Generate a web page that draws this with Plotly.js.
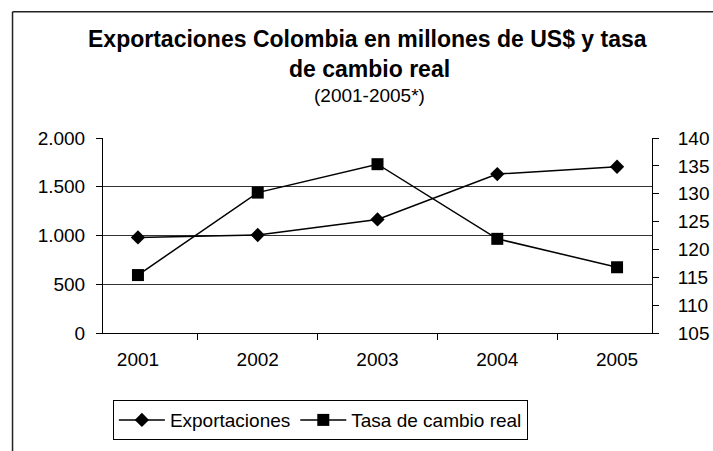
<!DOCTYPE html>
<html>
<head>
<meta charset="utf-8">
<script src="https://cdn.plot.ly/plotly-3.0.1.min.js"></script>
<style>html,body{margin:0;padding:0;background:#fff;}#chart{width:713px;height:451px;}</style>
</head>
<body>
<div id="chart"></div>
<script>
const years = ['2001', '2002', '2003', '2004', '2005'];
const exportaciones = [980, 1005, 1165, 1630, 1705];
const tasaCambio = [115.4, 130.2, 135.3, 121.9, 116.8];
const leftTickVals = [0, 500, 1000, 1500, 2000];
const leftTickText = ['0', '500', '1.000', '1.500', '2.000'];
const titleLine1 = 'Exportaciones Colombia en millones de US$ y tasa';
const titleLine2 = 'de cambio real';
const subtitle = '(2001-2005*)';

const FONT = 'Liberation Sans, Arial, sans-serif';

const traces = [
  {
    x: years, y: exportaciones, name: 'Exportaciones', type: 'scatter', mode: 'lines+markers',
    line: {color: '#000', width: 1.5},
    marker: {symbol: 'diamond', size: 11, color: '#000'},
    yaxis: 'y'
  },
  {
    x: years, y: tasaCambio, name: 'Tasa de cambio real', type: 'scatter', mode: 'lines+markers',
    line: {color: '#000', width: 1.5},
    marker: {symbol: 'square', size: 12, color: '#000'},
    yaxis: 'y2'
  }
];

const layout = {
  width: 713, height: 451,
  margin: {l: 103, r: 61, t: 138, b: 117},
  paper_bgcolor: '#fff', plot_bgcolor: '#fff',
  font: {family: FONT, size: 19, color: '#000'},
  showlegend: true,
  xaxis: {
    type: 'category', tickson: 'boundaries', ticks: 'outside', ticklen: 6, tickcolor: '#000',
    showline: true, linecolor: '#000', linewidth: 1, showgrid: false, zeroline: false,
    tickfont: {family: FONT, size: 19}, ticklabelstandoff: 9
  },
  yaxis: {
    range: [0, 2000], tickvals: leftTickVals, ticktext: leftTickText,
    ticks: 'outside', ticklen: 6, tickcolor: '#000',
    showline: true, linecolor: '#000', linewidth: 1,
    showgrid: true, gridcolor: '#333', gridwidth: 1, zeroline: false,
    tickfont: {family: FONT, size: 19}, ticklabelstandoff: 7
  },
  yaxis2: {
    overlaying: 'y', side: 'right', range: [105, 140], dtick: 5, tick0: 105,
    ticks: 'outside', ticklen: 6, tickcolor: '#000',
    showline: true, linecolor: '#000', linewidth: 1, showgrid: false, zeroline: false,
    tickfont: {family: FONT, size: 19}, ticklabelstandoff: 15
  },
  legend: {
    orientation: 'h', x: 0.018, xanchor: 'left', y: -0.337, yanchor: 'top',
    bordercolor: '#000', borderwidth: 1, bgcolor: '#fff', itemwidth: 46,
    font: {family: FONT, size: 19, color: '#000'}
  },
  annotations: [
    {text: '<b>' + titleLine1 + '</b>', xref: 'paper', yref: 'paper', x: 0.482, y: 1.507, xanchor: 'center', yanchor: 'middle', showarrow: false, font: {family: FONT, size: 23, color: '#000'}},
    {text: '<b>' + titleLine2 + '</b>', xref: 'paper', yref: 'paper', x: 0.485, y: 1.354, xanchor: 'center', yanchor: 'middle', showarrow: false, font: {family: FONT, size: 23, color: '#000'}},
    {text: subtitle, xref: 'paper', yref: 'paper', x: 0.485, y: 1.219, xanchor: 'center', yanchor: 'middle', showarrow: false, font: {family: FONT, size: 19, color: '#000'}}
  ],
  shapes: [
    {type: 'line', xref: 'paper', yref: 'paper', x0: -0.1648, x1: 1.2, y0: 1.648, y1: 1.648, line: {color: '#222', width: 1.5}},
    {type: 'line', xref: 'paper', yref: 'paper', x0: -0.1648, x1: -0.1648, y0: 1.648, y1: -0.7, line: {color: '#222', width: 1.5}}
  ]
};

Plotly.newPlot('chart', traces, layout, {displayModeBar: false, staticPlot: true});
</script>
</body>
</html>
